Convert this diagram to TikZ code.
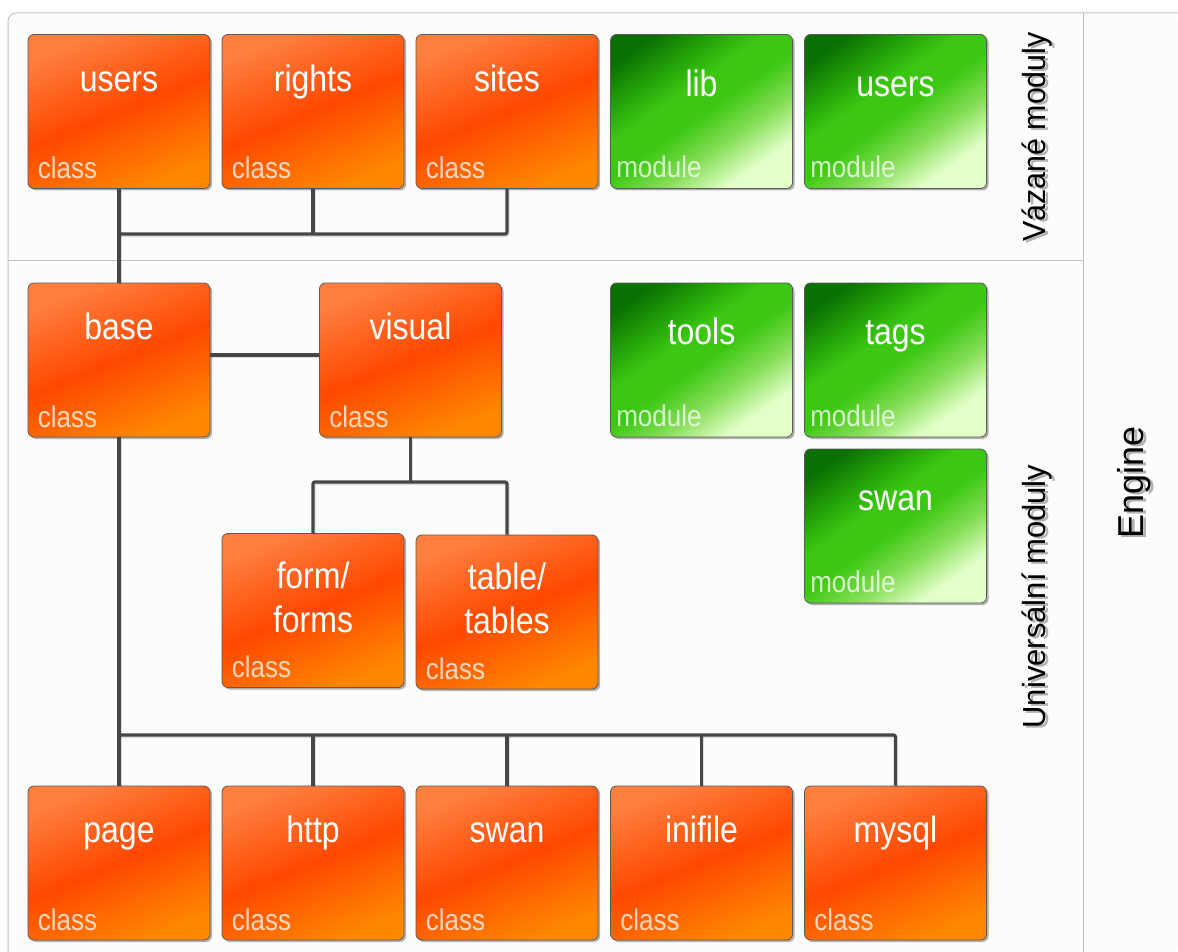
\documentclass[tikz,border=0pt]{standalone}
\usepackage{fontspec}
\setmainfont{Liberation Sans}
\usetikzlibrary{shadows}
\definecolor{oTop}{HTML}{FF7F3F}
\definecolor{oMid}{HTML}{FF4800}
\definecolor{oBot}{HTML}{FF8800}
\definecolor{gTop}{HTML}{0A7003}
\definecolor{gD}{HTML}{22A008}
\definecolor{gMid}{HTML}{3CC812}
\definecolor{gL}{HTML}{86DE58}
\definecolor{gBot}{HTML}{E2FFC8}
\definecolor{lineC}{HTML}{474747}
\definecolor{frameC}{HTML}{C2C2C2}
\definecolor{edgeC}{HTML}{5A5A5A}
\definecolor{bgC}{HTML}{FCFCFC}
\pgfdeclareverticalshading{gshade}{100bp}{color(0bp)=(gBot); color(27bp)=(gBot); color(38bp)=(gL); color(49bp)=(gMid); color(58bp)=(gMid); color(67bp)=(gD); color(77bp)=(gTop); color(100bp)=(gTop)}
\tikzset{
  box/.style={minimum width=182pt, minimum height=154pt, inner sep=0pt,
    rounded corners=6pt, draw=edgeC, line width=0.8pt,
    drop shadow={shadow xshift=2pt, shadow yshift=-2pt, opacity=0.3, fill=black}},
  obox/.style={box, top color=oTop, bottom color=oBot, middle color=oMid, shading angle=22},
  gbox/.style={box, shade, shading=gshade, shading angle=35},
  title/.style={text=white, inner sep=0pt, font=\fontsize{32}{38}\selectfont},
  tag/.style={text=white, text opacity=0.75, inner sep=0pt, font=\fontsize{26}{30}\selectfont},
  side/.style={text=black, inner sep=0pt, rotate=90, anchor=base, font=\fontsize{32}{38}\selectfont},
  sideshadow/.style={side, text=black!30},
  conn/.style={draw=lineC, line width=3.2pt, rounded corners=2pt,
    preaction={draw=black, opacity=0.12, line width=3.2pt, transform canvas={shift={(1pt,-1.5pt)}}}},
  frame/.style={draw=frameC, line width=1pt}
}
\newcommand\OBox[5]{%
  \node[obox] (#1) at (#2,#3) {};
  \node[title, anchor=base] (#1-t) at ([yshift=-#5pt]#1.north) {\scalebox{1}[1.15]{#4}};
  \node[tag, anchor=base west] (#1-c) at ([xshift=10pt,yshift=10pt]#1.south west) {\scalebox{1}[1.15]{class}};
}
\newcommand\GBox[4]{%
  \node[gbox] (#1) at (#2,#3) {};
  \node[title, anchor=base] (#1-t) at ([yshift=-62pt]#1.north) {\scalebox{1}[1.15]{#4}};
  \node[tag, anchor=base west] (#1-c) at ([xshift=6pt,yshift=11pt]#1.south west) {\scalebox{1}[1.15]{module}};
}
\begin{document}
\begin{tikzpicture}[x=1pt, y=-1pt]
\useasboundingbox (0,0) rectangle (1178,952);
\fill[white] (0,0) rectangle (1178,952);
\fill[bgC, rounded corners=8pt] (8,952) -- (8,13) -- (1178,13) -- (1178,952) -- cycle;
\draw[frame, rounded corners=8pt] (8,952) -- (8,13) -- (1178,13);
\draw[frame] (1083,13) -- (1083,952);
\draw[frame] (8,260) -- (1083,260);

% top row
\OBox{usersc}{119}{111.5}{users}{57}
\OBox{rights}{313}{111.5}{rights}{57}
\OBox{sites}{507}{111.5}{sites}{57}
\GBox{lib}{701.5}{111.5}{lib}
\GBox{usersm}{895.5}{111.5}{users}

% second row
\OBox{base}{119}{360}{base}{57}
\OBox{visual}{410.5}{360}{visual}{57}
\GBox{tools}{701.5}{360}{tools}
\GBox{tags}{895.5}{360}{tags}
\GBox{swanm}{895.5}{526}{swan}

% middle
\OBox{form}{313}{610.5}{\begin{tabular}[b]{@{}c@{}}form/\\forms\end{tabular}}{99}
\OBox{table}{507}{612}{\begin{tabular}[b]{@{}c@{}}table/\\tables\end{tabular}}{99}

% bottom row
\OBox{page}{119}{863}{page}{57}
\OBox{http}{313}{863}{http}{57}
\OBox{swanc}{507}{863}{swan}{57}
\OBox{inifile}{701.5}{863}{inifile}{57}
\OBox{mysql}{895.5}{863}{mysql}{57}

% connectors
\coordinate (busA) at (119,234);
\coordinate (busB) at (265,355);
\coordinate (busC) at (410.5,482);
\coordinate (busD) at (119,735);
\draw[conn] (usersc.south) -- (base.north);
\draw[conn] (rights.south) -- (rights.south |- busA);
\draw[conn] (sites.south) |- (busA);
\draw[conn] (base.east |- busB) -- (visual.west |- busB);
\draw[conn] (visual.south) -- (busC);
\draw[conn] (form.north) |- (busC) -| (table.north);
\draw[conn] (base.south) -- (page.north);
\draw[conn] (busD) -| (mysql.north);
\foreach \n in {http,swanc,inifile} {\draw[conn] (\n.north) -- (\n.north |- busD);}

% side labels
\node[sideshadow] (vaz-sh) at (1048,139) {\scalebox{0.95}[1]{Vázané moduly}};
\node[side] (vaz) at (1045,137) {\scalebox{0.95}[1]{Vázané moduly}};
\node[sideshadow] (uni-sh) at (1048,598.5) {\scalebox{0.97}[1]{Universální moduly}};
\node[side] (uni) at (1045,596.5) {\scalebox{0.97}[1]{Universální moduly}};
\node[sideshadow, font=\fontsize{36}{42}\selectfont] (eng-sh) at (1146,484.5) {Engine};
\node[side, font=\fontsize{36}{42}\selectfont] (eng) at (1143,482.5) {Engine};
\end{tikzpicture}
\end{document}
